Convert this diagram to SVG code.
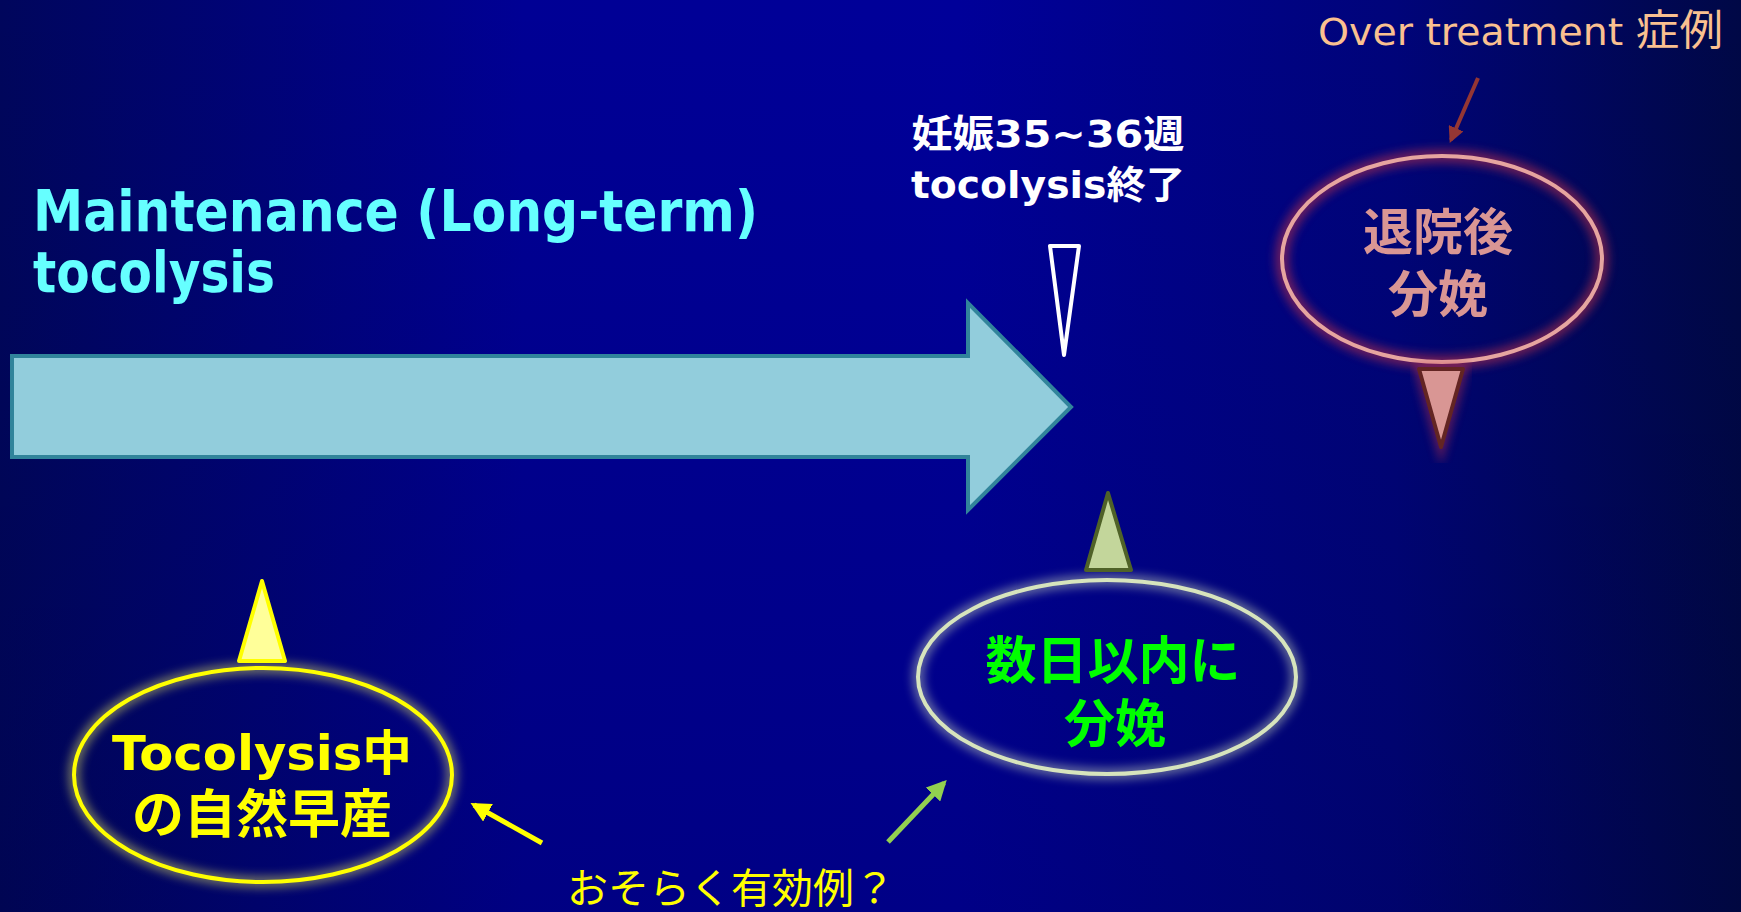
<svg xmlns="http://www.w3.org/2000/svg" width="1741" height="912" viewBox="0 0 1741 912">
<defs>
<linearGradient id="bg" x1="0" y1="0" x2="1" y2="0">
<stop offset="0" stop-color="#00065c"/>
<stop offset="0.3" stop-color="#000094"/>
<stop offset="0.55" stop-color="#000099"/>
<stop offset="0.8" stop-color="#00047a"/>
<stop offset="1" stop-color="#000846"/>
</linearGradient>
<linearGradient id="bgv" x1="0" y1="0" x2="0" y2="1">
<stop offset="0" stop-color="#000020" stop-opacity="0"/>
<stop offset="1" stop-color="#000020" stop-opacity="0.15"/>
</linearGradient>
<filter id="glowY" x="-20%" y="-20%" width="140%" height="140%">
<feGaussianBlur stdDeviation="5"/>
</filter>
<marker id="ahR" viewBox="0 0 10 10" refX="8" refY="5" markerWidth="4" markerHeight="4" orient="auto" markerUnits="strokeWidth">
<path d="M0,0 L10,5 L0,10 z" fill="#943634"/>
</marker>
<marker id="ahY" viewBox="0 0 10 10" refX="8" refY="5" markerWidth="4" markerHeight="4" orient="auto" markerUnits="strokeWidth">
<path d="M0,0 L10,5 L0,10 z" fill="#FFFF00"/>
</marker>
<marker id="ahG" viewBox="0 0 10 10" refX="8" refY="5" markerWidth="4" markerHeight="4" orient="auto" markerUnits="strokeWidth">
<path d="M0,0 L10,5 L0,10 z" fill="#92D050"/>
</marker>
</defs>
<style>
.lat{font-family:"DejaVu Sans","Noto Sans CJK JP",sans-serif;font-weight:bold;}
.jp{font-family:"Noto Sans CJK JP",sans-serif;font-weight:bold;}
.jpr{font-family:"Noto Sans CJK JP",sans-serif;font-weight:normal;}
.latr{font-family:"DejaVu Sans","Noto Sans CJK JP",sans-serif;font-weight:normal;}
</style>
<rect x="0" y="0" width="1741" height="912" fill="url(#bg)"/>
<rect x="0" y="0" width="1741" height="912" fill="url(#bgv)"/>

<g id="title">
<text class="lat" x="33" y="231" font-size="57" fill="#66FFFF" textLength="725" lengthAdjust="spacingAndGlyphs">Maintenance (Long-term)</text>
<text class="lat" x="33" y="292" font-size="57" fill="#66FFFF" textLength="242" lengthAdjust="spacingAndGlyphs">tocolysis</text>
</g>

<g id="main-arrow">
<polygon points="12,356 968,356 968,303 1071,407 968,510 968,457 12,457" fill="#92CDDC" stroke="#31849B" stroke-width="4" stroke-linejoin="miter"/>
</g>

<g id="end-label">
<text class="lat" x="1048" y="147" font-size="38" fill="#FFFFFF" text-anchor="middle" textLength="273" lengthAdjust="spacingAndGlyphs">妊娠35~36週</text>
<text class="lat" x="1048" y="198" font-size="38" fill="#FFFFFF" text-anchor="middle" textLength="274" lengthAdjust="spacingAndGlyphs">tocolysis終了</text>
<polygon points="1050,246 1079,246 1064,355" fill="none" stroke="#FFFFFF" stroke-width="4" stroke-linejoin="round"/>
</g>

<g id="over-treatment">
<text class="latr" x="1318" y="45" font-size="38" fill="#FAC090" textLength="405" lengthAdjust="spacingAndGlyphs">Over treatment <tspan font-size="42">症例</tspan></text>
</g>

<g id="node-after-discharge">
<ellipse cx="1442" cy="259" rx="160" ry="103" fill="none" stroke="#C0304A" stroke-width="14" opacity="0.55" filter="url(#glowY)"/>
<ellipse cx="1442" cy="259" rx="160" ry="103" fill="none" stroke="#E6A5A0" stroke-width="4"/>
<text class="jp" x="1438" y="250" font-size="50" fill="#D99694" text-anchor="middle">退院後</text>
<text class="jp" x="1438" y="312" font-size="50" fill="#D99694" text-anchor="middle">分娩</text>
<polygon points="1419,369 1463,369 1441,447" fill="none" stroke="#C0304A" stroke-width="10" opacity="0.5" filter="url(#glowY)"/>
<polygon points="1419,369 1463,369 1441,447" fill="#D99694" stroke="#632523" stroke-width="4" stroke-linejoin="round"/>
</g>

<g id="node-within-days">
<ellipse cx="1107" cy="677" rx="189" ry="97" fill="none" stroke="#D7E4BD" stroke-width="12" opacity="0.45" filter="url(#glowY)"/>
<ellipse cx="1107" cy="677" rx="189" ry="97" fill="none" stroke="#D7E4BD" stroke-width="4"/>
<text class="jp" x="1113" y="679" font-size="51" fill="#00FF00" text-anchor="middle">数日以内に</text>
<text class="jp" x="1115" y="742" font-size="51" fill="#00FF00" text-anchor="middle">分娩</text>
<polygon points="1108,493 1131,570 1086,570" fill="#C3D69B" stroke="#4F6228" stroke-width="4" stroke-linejoin="round"/>
</g>

<g id="node-spontaneous">
<ellipse cx="263" cy="775" rx="189" ry="107" fill="none" stroke="#EEEE60" stroke-width="12" opacity="0.45" filter="url(#glowY)"/>
<ellipse cx="263" cy="775" rx="189" ry="107" fill="none" stroke="#FFFF00" stroke-width="4"/>
<text class="lat" x="262" y="770" font-size="48" fill="#FFFF00" text-anchor="middle" textLength="300" lengthAdjust="spacingAndGlyphs">Tocolysis中</text>
<text class="jp" x="262" y="833" font-size="52" fill="#FFFF00" text-anchor="middle">の自然早産</text>
<polygon points="262,581 285,661 239,661" fill="#FFFF99" stroke="#FFFF00" stroke-width="4" stroke-linejoin="round"/>
</g>

<g id="note">
<text class="jpr" x="731" y="903" font-size="41" fill="#FFFF00" text-anchor="middle">おそらく有効例？</text>
</g>

<g id="connectors">
<line x1="1478" y1="78" x2="1451" y2="140" stroke="#943634" stroke-width="4" marker-end="url(#ahR)"/>
<line x1="542" y1="843" x2="474" y2="805" stroke="#FFFF00" stroke-width="5" marker-end="url(#ahY)"/>
<line x1="888" y1="842" x2="944" y2="783" stroke="#92D050" stroke-width="5" marker-end="url(#ahG)"/>
</g>
</svg>
